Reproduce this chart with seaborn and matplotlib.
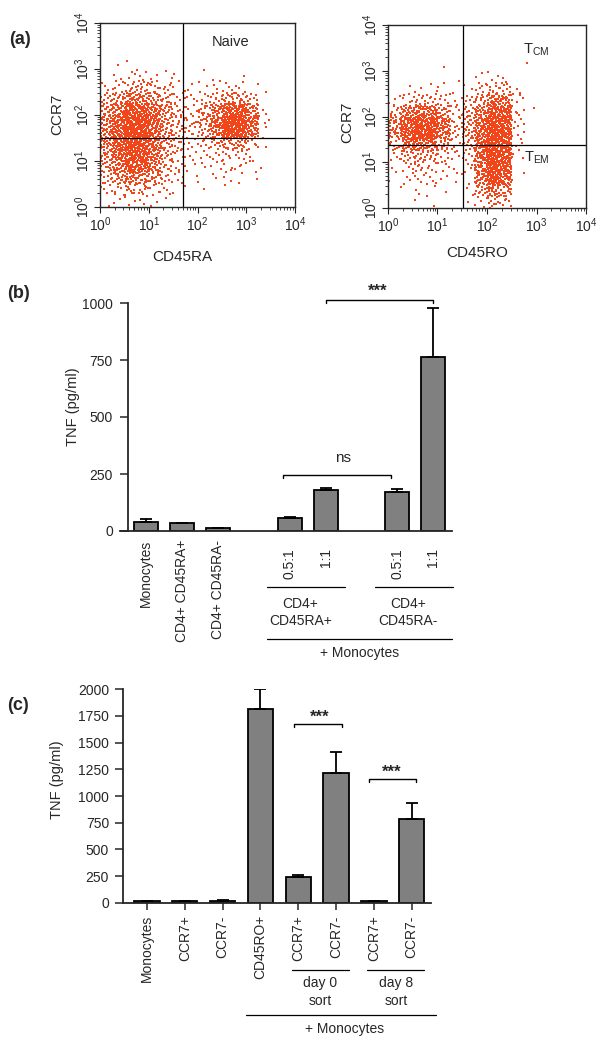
"""
TNF production by CD4+ T-cell subsets co-cultured with monocytes.
(a) flow cytometry gates, (b) CD45RA+/- sorted cells, (c) CCR7+/- sorted cells.
"""
import numpy as np
import pandas as pd
import matplotlib
matplotlib.use("Agg")
import matplotlib.pyplot as plt
import matplotlib.transforms as mtransforms
from matplotlib.ticker import LogLocator, NullFormatter, LogFormatterMathtext
import seaborn as sns

# --- (a) dot counts per 1/4-decade cell (rows: top -> bottom) ---
NAIVE_GRID = [
    [0, 0, 0, 0, 0, 0, 0, 0, 0, 0, 0, 0, 0, 0, 0, 0],
    [0, 0, 0, 0, 0, 0, 0, 0, 0, 0, 0, 0, 0, 0, 0, 0],
    [0, 0, 0, 0, 0, 0, 0, 0, 0, 0, 0, 0, 0, 0, 0, 0],
    [0, 1, 1, 0, 0, 0, 0, 0, 0, 0, 0, 0, 0, 0, 0, 0],
    [0, 2, 3, 4, 2, 2, 1, 0, 1, 1, 0, 1, 0, 0, 0, 0],
    [3, 6, 9, 11, 8, 5, 3, 2, 2, 3, 4, 3, 1, 0, 0, 0],
    [10, 15, 22, 22, 16, 10, 6, 4, 5, 9, 13, 14, 7, 1, 0, 0],
    [18, 28, 40, 40, 28, 16, 8, 5, 10, 22, 38, 40, 22, 2, 0, 0],
    [22, 35, 50, 50, 35, 18, 10, 7, 14, 30, 55, 58, 32, 3, 0, 0],
    [22, 35, 50, 50, 32, 16, 9, 6, 11, 25, 48, 50, 25, 2, 0, 0],
    [20, 32, 45, 45, 30, 14, 8, 4, 6, 10, 16, 16, 8, 1, 0, 0],
    [18, 30, 42, 42, 28, 12, 7, 3, 3, 5, 6, 6, 3, 0, 0, 0],
    [14, 24, 34, 34, 22, 10, 6, 2, 2, 3, 4, 4, 2, 1, 0, 0],
    [8, 15, 22, 20, 14, 7, 4, 1, 1, 2, 2, 2, 1, 0, 0, 0],
    [4, 7, 10, 9, 6, 3, 2, 0, 1, 0, 1, 0, 0, 0, 0, 0],
    [1, 2, 3, 3, 2, 1, 0, 0, 0, 0, 0, 0, 0, 0, 0, 0],
]
MEMORY_GRID = [
    [0, 0, 0, 0, 0, 0, 0, 0, 0, 0, 0, 0, 0, 0, 0, 0],
    [0, 0, 0, 0, 0, 0, 0, 0, 0, 0, 0, 0, 0, 0, 0, 0],
    [0, 0, 0, 0, 0, 0, 0, 0, 0, 0, 0, 0, 0, 0, 0, 0],
    [0, 0, 0, 0, 1, 0, 0, 0, 0, 0, 0, 1, 0, 0, 0, 0],
    [0, 0, 0, 0, 0, 1, 0, 2, 3, 2, 0, 0, 0, 0, 0, 0],
    [0, 1, 2, 2, 2, 1, 2, 6, 10, 8, 2, 0, 0, 0, 0, 0],
    [3, 6, 8, 8, 6, 4, 6, 14, 25, 22, 4, 0, 0, 0, 0, 0],
    [10, 20, 28, 28, 16, 6, 10, 22, 38, 35, 5, 1, 0, 0, 0, 0],
    [18, 38, 50, 50, 28, 8, 14, 30, 50, 45, 5, 0, 0, 0, 0, 0],
    [18, 40, 55, 50, 25, 7, 14, 32, 55, 48, 4, 0, 0, 0, 0, 0],
    [10, 22, 30, 28, 14, 5, 10, 30, 55, 45, 3, 0, 0, 0, 0, 0],
    [5, 10, 14, 12, 7, 3, 6, 30, 55, 45, 2, 0, 0, 0, 0, 0],
    [2, 5, 7, 6, 4, 2, 4, 28, 52, 40, 1, 0, 0, 0, 0, 0],
    [1, 3, 4, 4, 2, 1, 3, 22, 42, 30, 0, 0, 0, 0, 0, 0],
    [0, 1, 2, 2, 1, 0, 2, 12, 25, 15, 0, 0, 0, 0, 0, 0],
    [0, 0, 1, 1, 0, 0, 1, 5, 10, 6, 0, 0, 0, 0, 0, 0],
]
NAIVE_GATE = (50, 32)      # CD45RA, CCR7 cut-offs
MEMORY_GATE = (33, 24)     # CD45RO, CCR7 cut-offs

# --- (b) TNF (pg/ml), CD45RA sorted cells ---
B_LABELS = ["Monocytes", "CD4+ CD45RA+", "CD4+ CD45RA-", "0.5:1", "1:1", "0.5:1", "1:1"]
B_TNF = [38, 34, 12, 57, 179, 173, 761]
B_ERR = [15, 2, 2, 4, 8, 11, 219]
B_GROUPS = ["CD4+\nCD45RA+", "CD4+\nCD45RA-"]

# --- (c) TNF (pg/ml), CCR7 sorted cells ---
C_LABELS = ["Monocytes", "CCR7+", "CCR7-", "CD45RO+", "CCR7+", "CCR7-", "CCR7+", "CCR7-"]
C_TNF = [15, 15, 20, 1812, 240, 1216, 15, 787]
C_ERR = [2, 2, 8, 188, 19, 193, 2, 147]
C_GROUPS = ["day 0\nsort", "day 8\nsort"]

DOT = "#f0461a"
BAR = "#808080"
W, H = 600, 1043

sns.set_style("ticks")
plt.rcParams["font.family"] = ["Liberation Sans", "DejaVu Sans"]
plt.rcParams["mathtext.fontset"] = "custom"
plt.rcParams["mathtext.rm"] = "Liberation Sans"
plt.rcParams["mathtext.it"] = "Liberation Sans:italic"
plt.rcParams["mathtext.default"] = "regular"
plt.rcParams["axes.linewidth"] = 1.0


def px_box(x0, y0, x1, y1):
    return [x0 / W, 1 - y1 / H, (x1 - x0) / W, (y1 - y0) / H]


def halton(i, base):
    f, r = 1.0, 0.0
    while i > 0:
        f /= base
        r += f * (i % base)
        i //= base
    return r


def grid_to_dots(grid):
    # spread each cell's count evenly inside its 1/4-decade box
    xs, ys, n = [], [], 0
    nrows = len(grid)
    for ri, row in enumerate(grid):
        yrow = nrows - 1 - ri
        for col, count in enumerate(row):
            for _ in range(count):
                n += 1
                xs.append(10 ** ((col + halton(n, 2)) / 4))
                ys.append(10 ** ((yrow + halton(n, 3)) / 4))
    return pd.DataFrame({"x": xs, "y": ys})


def flow_panel(ax, grid, gate):
    dots = grid_to_dots(grid)
    sns.scatterplot(data=dots, x="x", y="y", ax=ax, s=3.6, marker="s",
                    color=DOT, linewidth=0, legend=False)
    ax.set_xscale("log")
    ax.set_yscale("log")
    ax.set_xlim(1, 1e4)
    ax.set_ylim(1, 1e4)
    ax.axvline(gate[0], color="k", lw=0.9)
    ax.axhline(gate[1], color="k", lw=0.9)
    for axis in (ax.xaxis, ax.yaxis):
        axis.set_major_locator(LogLocator(base=10, numticks=10))
        axis.set_minor_locator(LogLocator(base=10, subs=np.arange(2, 10), numticks=10))
        axis.set_minor_formatter(NullFormatter())
        axis.set_major_formatter(LogFormatterMathtext())
    ax.tick_params(which="major", length=4, width=0.8, labelsize=10, pad=2)
    ax.tick_params(which="minor", length=2.2, width=0.6)
    ax.tick_params(axis="y", labelrotation=90)
    for lab in ax.get_yticklabels():
        lab.set_va("center")
    ax.set_xlabel("")
    ax.set_ylabel("")


def bracket(ax, x0, x1, y, drop, text, tx, ty, size, weight="normal"):
    ax.plot([x0, x0, x1, x1], [y - drop, y, y, y - drop], color="k", lw=1.0,
            clip_on=False)
    ax.text(tx, ty, text, ha="center", va="center", fontsize=size,
            fontweight=weight, clip_on=False)


def group_rows(ax, spans, names, line_y, text_y, x_shift, pad_l, pad_r):
    trans = mtransforms.blended_transform_factory(ax.transData, ax.transAxes)
    for (a, b), name in zip(spans, names):
        ax.plot([a - pad_l, b + pad_r], [line_y, line_y], color="k", lw=0.9,
                transform=trans, clip_on=False)
        ax.text((a + b) / 2 + x_shift, text_y, name, transform=trans, ha="center",
                va="top", fontsize=10, linespacing=1.3)


fig = plt.figure(figsize=(W / 100, H / 100), dpi=100)

# ---------------- (a) ----------------
ax_a1 = fig.add_axes(px_box(100, 23, 295, 207))
flow_panel(ax_a1, NAIVE_GRID, NAIVE_GATE)
ax_a1.text(466, 3900, "Naive", ha="center", va="center", fontsize=10.5)

ax_a2 = fig.add_axes(px_box(388, 25, 586, 208))
flow_panel(ax_a2, MEMORY_GRID, MEMORY_GATE)
ax_a2.text(1000, 2830, "T$_{CM}$", ha="center", va="center", fontsize=10.5)
ax_a2.text(1000, 12.4, "T$_{EM}$", ha="center", va="center", fontsize=10.5)

fig.text(57 / W, 1 - 114 / H, "CCR7", rotation=90, ha="center", va="center", fontsize=11)
fig.text(347 / W, 1 - 122 / H, "CCR7", rotation=90, ha="center", va="center", fontsize=11)
fig.text(182 / W, 1 - 257 / H, "CD45RA", ha="center", va="center", fontsize=11)
fig.text(477 / W, 1 - 253 / H, "CD45RO", ha="center", va="center", fontsize=11)

# ---------------- (b) ----------------
pos_b = np.array([0, 1, 2, 4, 5, 7, 8])
ax_b = fig.add_axes(px_box(120, 303, 452, 531))
sns.barplot(x=pos_b, y=B_TNF, native_scale=True, width=0.67, color=BAR,
            saturation=1, edgecolor="k", linewidth=1.3, errorbar=None, ax=ax_b)
ax_b.errorbar(pos_b, B_TNF, yerr=[np.zeros(len(B_ERR)), B_ERR], fmt="none",
              ecolor="k", elinewidth=1.3, capsize=4.5, capthick=1.3, zorder=5)
ax_b.set_xlim(-0.724, 8.52)
ax_b.set_ylim(0, 1000)
ax_b.set_yticks([0, 250, 500, 750, 1000])
ax_b.set_xticks([])
sns.despine(ax=ax_b)
ax_b.spines["left"].set_position(("data", -0.5))
ax_b.spines["bottom"].set_linewidth(1.3)
ax_b.spines["left"].set_linewidth(1.3)
ax_b.tick_params(axis="y", length=6, width=1.1, labelsize=10, pad=5)
ax_b.set_xlabel("")
ax_b.set_ylabel("")
fig.text(73 / W, 1 - 407 / H, "TNF (pg/ml)", rotation=90, ha="center", va="center",
         fontsize=10.5)

trans_b = mtransforms.blended_transform_factory(ax_b.transData, ax_b.transAxes)
for p, lab in zip(pos_b, B_LABELS):
    y_lab = -0.04 if p < 3 else -0.075
    ax_b.text(p, y_lab, lab, transform=trans_b, rotation=90, ha="center", va="top",
              fontsize=10)
group_rows(ax_b, [(4, 5), (7, 8)], B_GROUPS, -0.2456, -0.29, -0.2, 0.62, 0.55)
ax_b.plot([3.37, 8.52], [-0.4737, -0.4737], color="k", lw=0.9, transform=trans_b,
          clip_on=False)
ax_b.text(5.96, -0.505, "+ Monocytes", transform=trans_b, ha="center", va="top",
          fontsize=10)

bracket(ax_b, 5, 8, 1015, 15, "***", 6.45, 1050, 12, "bold")
bracket(ax_b, 3.82, 6.82, 246, 15, "ns", 5.49, 319, 11)

# ---------------- (c) ----------------
pos_c = np.arange(len(C_LABELS))
ax_c = fig.add_axes(px_box(123, 689.3, 431, 902.7))
sns.barplot(x=pos_c, y=C_TNF, native_scale=True, width=0.67, color=BAR,
            saturation=1, edgecolor="k", linewidth=1.3, errorbar=None, ax=ax_c)
ax_c.errorbar(pos_c, C_TNF, yerr=[np.zeros(len(C_ERR)), C_ERR], fmt="none",
              ecolor="k", elinewidth=1.3, capsize=4.5, capthick=1.3, zorder=5)
ax_c.set_xlim(-0.635, 7.51)
ax_c.set_ylim(0, 2000)
ax_c.set_yticks(np.arange(0, 2001, 250))
ax_c.set_xticks(pos_c)
ax_c.set_xticklabels(C_LABELS, rotation=90, va="top", ha="center")
sns.despine(ax=ax_c)
ax_c.spines["bottom"].set_linewidth(1.3)
ax_c.spines["left"].set_linewidth(1.3)
ax_c.tick_params(axis="y", length=6, width=1.1, labelsize=10, pad=4)
ax_c.tick_params(axis="x", length=5, width=1.1, labelsize=10, pad=4)
ax_c.set_xlabel("")
ax_c.set_ylabel("")
fig.text(57 / W, 1 - 780 / H, "TNF (pg/ml)", rotation=90, ha="center", va="center",
         fontsize=10.5)

trans_c = mtransforms.blended_transform_factory(ax_c.transData, ax_c.transAxes)
group_rows(ax_c, [(4, 5), (6, 7)], C_GROUPS, -0.315, -0.345, 0.08, 0.17, 0.33)
ax_c.plot([2.63, 7.65], [-0.526, -0.526], color="k", lw=0.9, transform=trans_c,
          clip_on=False)
ax_c.text(5.22, -0.56, "+ Monocytes", transform=trans_c, ha="center", va="top",
          fontsize=10)

bracket(ax_c, 3.9, 5.16, 1672, 25, "***", 4.56, 1740, 12, "bold")
bracket(ax_c, 5.86, 7.12, 1159, 25, "***", 6.46, 1227, 12, "bold")

# panel letters
for letter, (x, y) in {"(a)": (20, 40), "(b)": (19, 293), "(c)": (18, 706)}.items():
    fig.text(x / W, 1 - y / H, letter, ha="center", va="center", fontsize=13,
             fontweight="bold")

fig.savefig("out.png", dpi=100)
